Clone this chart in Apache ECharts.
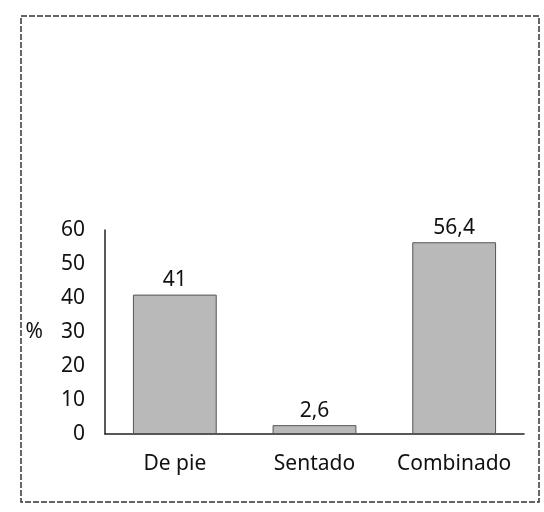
<!DOCTYPE html>
<html>
<head>
<meta charset="utf-8">
<script src="https://cdn.jsdelivr.net/npm/echarts@6/dist/echarts.min.js"></script>
<style>html,body{margin:0;padding:0;background:#fff}#c{width:544px;height:512px}</style>
</head>
<body>
<div id="c"></div>
<script>
const categories = ['De pie', 'Sentado', 'Combinado'];
const values = [41, 2.6, 56.4];
const valueLabels = ['41', '2,6', '56,4'];
const yTicks = [0, 10, 20, 30, 40, 50, 60];

const chart = echarts.init(document.getElementById('c'), null, {renderer: 'canvas'});
const font = 'Noto Sans';
chart.setOption({
  animation: false,
  backgroundColor: '#ffffff',
  graphic: [{
    type: 'rect',
    shape: {x: 21, y: 16, width: 518, height: 486},
    style: {fill: 'none', stroke: '#333', lineWidth: 1.5, lineDash: [6, 2]},
    silent: true
  }],
  grid: {left: 105, right: 20, top: 230, bottom: 78},
  xAxis: {
    type: 'category',
    data: categories,
    axisLine: {lineStyle: {color: '#222', width: 1.5}},
    axisTick: {show: false},
    axisLabel: {color: '#111', fontFamily: font, fontSize: 21, margin: 20, interval: 0, hideOverlap: false}
  },
  yAxis: {
    type: 'value',
    min: yTicks[0],
    max: yTicks[yTicks.length - 1],
    interval: 10,
    name: '%',
    nameLocation: 'middle',
    nameRotate: 0,
    nameGap: 62,
    nameTextStyle: {color: '#111', fontFamily: font, fontSize: 21},
    axisLine: {show: true, lineStyle: {color: '#222', width: 1.5}},
    axisTick: {show: false},
    splitLine: {show: false},
    axisLabel: {color: '#111', fontFamily: font, fontSize: 21, margin: 20}
  },
  series: [{
    type: 'bar',
    data: values,
    barWidth: '60%',
    itemStyle: {color: '#b9b9b9', borderColor: '#555', borderWidth: 1},
    label: {
      show: true,
      position: 'top',
      distance: 4,
      color: '#111',
      fontFamily: font,
      fontSize: 21,
      formatter: p => valueLabels[p.dataIndex]
    }
  }]
});
</script>
</body>
</html>
